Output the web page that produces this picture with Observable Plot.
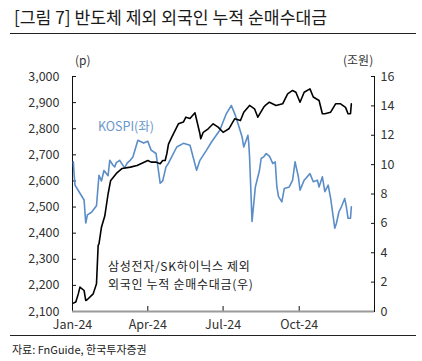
<!DOCTYPE html>
<html><head><meta charset="utf-8">
<script src="https://cdn.jsdelivr.net/npm/d3@7"></script>
<script src="https://cdn.jsdelivr.net/npm/@observablehq/plot@0.6"></script>
<style>
body{margin:0;background:#fff;font-family:"Noto Sans CJK KR","Noto Sans",sans-serif;}
#wrap{position:relative;width:422px;height:361px;overflow:hidden;background:#fff;}
#chart{position:absolute;left:0;top:0;}
.t{position:absolute;white-space:nowrap;}
</style></head><body>
<div id="wrap">
<div id="chart"></div>
<div class="t" style="left:14px;top:4px;font-size:17.2px;color:#1a1a1a;">[그림 7] 반도체 제외 외국인 누적 순매수대금</div>
<div style="position:absolute;left:10px;top:33px;width:406px;height:1px;background:#222"></div>
<div class="t" style="left:75px;top:51px;font-size:12px;color:#333">(p)</div>
<div class="t" style="left:343px;top:51px;font-size:12px;color:#333">(조원)</div>
<div class="t" style="left:98px;top:116px;font-size:12.5px;color:#6a97cb">KOSPI(좌)</div>
<div class="t" style="left:108px;top:260px;font-size:12px;line-height:12px;letter-spacing:0.7px;color:#222">삼성전자/SK하이닉스 제외</div>
<div class="t" style="left:108px;top:278px;font-size:12px;line-height:12px;letter-spacing:0.7px;color:#222">외국인 누적 순매수대금(우)</div>
<div style="position:absolute;left:10px;top:335px;width:406px;height:1px;background:#222"></div>
<div class="t" style="left:12px;top:341px;font-size:11px;color:#222">자료: FnGuide, 한국투자증권</div>
</div>
<script>
const kospiDates = ["2024-01-02","2024-01-03","2024-01-04","2024-01-10","2024-01-15","2024-01-17","2024-01-19","2024-01-24","2024-01-30","2024-02-02","2024-02-05","2024-02-08","2024-02-13","2024-02-15","2024-02-19","2024-02-21","2024-02-23","2024-02-27","2024-03-04","2024-03-07","2024-03-11","2024-03-14","2024-03-20","2024-03-27","2024-04-01","2024-04-05","2024-04-11","2024-04-16","2024-04-19","2024-04-23","2024-04-26","2024-05-06","2024-05-14","2024-05-22","2024-05-30","2024-06-03","2024-06-11","2024-06-17","2024-06-27","2024-07-05","2024-07-11","2024-07-15","2024-07-19","2024-07-24","2024-07-26","2024-07-31","2024-08-01","2024-08-02","2024-08-05","2024-08-09","2024-08-14","2024-08-16","2024-08-19","2024-08-22","2024-08-26","2024-08-30","2024-09-02","2024-09-04","2024-09-06","2024-09-10","2024-09-13","2024-09-19","2024-09-23","2024-09-26","2024-09-30","2024-10-02","2024-10-07","2024-10-14","2024-10-18","2024-10-23","2024-10-25","2024-10-29","2024-11-01","2024-11-05","2024-11-08","2024-11-13","2024-11-15","2024-11-18","2024-11-21","2024-11-25","2024-11-27","2024-11-29","2024-12-02","2024-12-03"];
const kospiValues = [2673,2622,2584,2553,2527,2439,2470,2480,2505,2622,2600,2640,2620,2679,2660,2654,2670,2679,2650,2668,2680,2692,2756,2745,2752,2718,2705,2591,2600,2654,2668,2730,2744,2737,2641,2679,2718,2749,2794,2858,2889,2858,2820,2768,2730,2775,2745,2692,2445,2577,2641,2686,2692,2705,2695,2667,2673,2577,2540,2520,2571,2577,2603,2673,2616,2565,2603,2628,2597,2603,2577,2616,2559,2584,2533,2419,2438,2482,2501,2533,2501,2457,2457,2501];

const flowDates = ["2024-01-02","2024-01-05","2024-01-08","2024-01-10","2024-01-15","2024-01-17","2024-01-19","2024-01-26","2024-01-30","2024-02-01","2024-02-02","2024-02-05","2024-02-09","2024-02-13","2024-02-16","2024-02-23","2024-03-01","2024-03-11","2024-03-19","2024-03-25","2024-04-01","2024-04-05","2024-04-11","2024-04-16","2024-04-19","2024-04-22","2024-04-24","2024-04-26","2024-04-30","2024-05-08","2024-05-14","2024-05-17","2024-05-22","2024-05-28","2024-06-03","2024-06-04","2024-06-07","2024-06-13","2024-06-19","2024-06-25","2024-07-01","2024-07-08","2024-07-15","2024-07-22","2024-07-26","2024-08-02","2024-08-08","2024-08-12","2024-08-19","2024-08-21","2024-08-26","2024-09-03","2024-09-11","2024-09-17","2024-09-23","2024-09-27","2024-10-02","2024-10-07","2024-10-14","2024-10-18","2024-10-25","2024-10-29","2024-11-01","2024-11-08","2024-11-14","2024-11-20","2024-11-26","2024-11-29","2024-12-02","2024-12-03"];
const flowValues = [0.57,0.65,1.2,1.66,1.43,0.75,0.82,1.2,1.89,4.5,4.6,5.74,6.5,8.0,8.9,9.4,9.74,9.83,9.94,10.1,10.28,10.17,10.17,10.06,10.28,10.28,10.74,11.4,11.87,12.78,12.9,13.23,13.14,13.53,12.1,11.76,12.2,12.44,12.78,12.55,12.2,12.44,13.12,13.0,13.57,14.03,13.8,13.23,13.9,14.03,14.25,14.03,14.14,14.82,15.05,14.93,14.25,14.93,15.16,14.6,14.37,13.46,13.46,13.57,14.14,14.14,13.9,13.46,13.46,14.14];

const leftTicks = [2100,2200,2300,2400,2500,2600,2700,2800,2900,3000];
const rightTicks = [0,2,4,6,8,10,12,14,16];
const xTickDates = ["2024-01-01","2024-04-01","2024-07-01","2024-10-01"];

const kospi = kospiDates.map((d,i)=>({date:new Date(d), value:kospiValues[i]}));
const flow = flowDates.map((d,i)=>({date:new Date(d), value:flowValues[i]}));
const L0 = 2100, L1 = 3000, R0 = 0, R1 = 16;
const toL = v => L0 + (v - R0) * (L1 - L0) / (R1 - R0);
const fromL = y => R0 + (y - L0) * (R1 - R0) / (L1 - L0);
const xDomain = [new Date("2024-01-01"), new Date("2024-12-31")];

const chart = Plot.plot({
  width: 422, height: 361,
  marginTop: 76, marginBottom: 50, marginLeft: 72, marginRight: 48,
  style: {fontFamily: '"Noto Sans CJK KR","Noto Sans",sans-serif', fontSize: "12.5px", color: "#333", background: "transparent"},
  x: {type: "utc", domain: xDomain},
  y: {domain: [L0, L1]},
  marks: [
    Plot.ruleX([xDomain[0], xDomain[1]], {stroke: "#111", strokeWidth: 1}),
    Plot.axisY(leftTicks, {anchor: "left", tickSize: -4, tickPadding: 17, label: null, stroke: "#111"}),
    Plot.axisY(rightTicks.map(toL), {anchor: "right", tickSize: -4, tickPadding: 10, label: null, tickFormat: d => String(Math.round(fromL(d))), stroke: "#111"}),
    Plot.axisX(xTickDates.map(d => new Date(d)), {anchor: "bottom", tickSize: -5, tickPadding: 14, label: null, tickFormat: d3.utcFormat("%b-%y"), stroke: "#111"}),
    Plot.lineY(kospi, {x: "date", y: "value", stroke: "#5b8dc8", strokeWidth: 1.6}),
    Plot.lineY(flow, {x: "date", y: d => toL(d.value), stroke: "#000", strokeWidth: 1.6}),
    Plot.ruleY([L0], {stroke: "#9a9a9a", strokeWidth: 2})
  ]
});
document.getElementById("chart").appendChild(chart);
</script>
</body></html>
